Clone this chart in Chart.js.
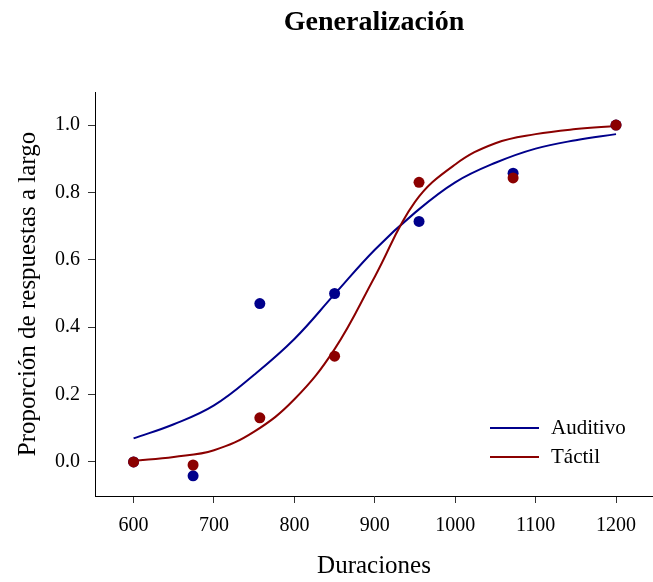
<!DOCTYPE html>
<html>
<head>
<meta charset="utf-8">
<script src="https://cdn.jsdelivr.net/npm/chart.js@4/dist/chart.umd.min.js"></script>
<style>
html,body{margin:0;padding:0;background:#fff;}
#wrap{width:653px;height:582px;position:relative;}
</style>
</head>
<body>
<div id="wrap"><canvas id="c" width="653" height="582"></canvas></div>
<script>
// ---- data ----
const durations   = [600, 674, 757, 850, 955, 1072, 1200];
const auditivoObs = [0.0, -0.041, 0.470, 0.500, 0.714, 0.857, 1.0];
const tactilObs   = [0.0, -0.009, 0.131, 0.314, 0.830, 0.843, 1.0];

const curveX      = [600, 650, 700, 750, 800, 850, 900, 950, 1000, 1050, 1100, 1150, 1200];
const auditivoFit = [0.070, 0.112, 0.168, 0.259, 0.365, 0.498, 0.630, 0.740, 0.830, 0.888, 0.930, 0.955, 0.973];
const tactilFit   = [0.003, 0.015, 0.035, 0.090, 0.186, 0.335, 0.550, 0.772, 0.883, 0.946, 0.973, 0.988, 0.997];

const xTicks = [600, 700, 800, 900, 1000, 1100, 1200];
const yTicks = [0.0, 0.2, 0.4, 0.6, 0.8, 1.0];
const legendLabels = ['Auditivo', 'Táctil'];

// ---- styling ----
const SERIF = "'Liberation Serif', 'Times New Roman', Times, serif";
const BLUE = '#00008B';
const RED  = '#8B0000';

const pts = (xs, ys) => xs.map((x, i) => ({ x: x, y: ys[i] }));

const insetLegend = {
  id: 'insetLegend',
  afterDraw(chart, args, opts) {
    const ctx = chart.ctx;
    ctx.save();
    ctx.font = opts.fontSize + 'px ' + SERIF;
    ctx.textBaseline = 'middle';
    ctx.textAlign = 'left';
    opts.labels.forEach((label, i) => {
      const ds = chart.data.datasets.find(d => d.label === label);
      const y = opts.y + i * opts.spacing;
      ctx.strokeStyle = ds.borderColor;
      ctx.lineWidth = 2;
      ctx.beginPath();
      ctx.moveTo(opts.x, y);
      ctx.lineTo(opts.x + opts.lineLen, y);
      ctx.stroke();
      ctx.fillStyle = '#000';
      ctx.fillText(label, opts.x + opts.lineLen + opts.gap, y);
    });
    ctx.restore();
  }
};

Chart.defaults.color = '#000';
Chart.defaults.font.family = SERIF;

new Chart(document.getElementById('c').getContext('2d'), {
  type: 'scatter',
  data: {
    datasets: [
      { label: 'Táctil (observado)', data: pts(durations, tactilObs),
        backgroundColor: RED, borderColor: RED, pointRadius: 5.5, pointBorderWidth: 0, showLine: false },
      { label: 'Auditivo (observado)', data: pts(durations, auditivoObs),
        backgroundColor: BLUE, borderColor: BLUE, pointRadius: 5.5, pointBorderWidth: 0, showLine: false },
      { label: 'Táctil', data: pts(curveX, tactilFit),
        borderColor: RED, backgroundColor: RED, borderWidth: 2, pointRadius: 0, showLine: true,
        tension: 0.4 },
      { label: 'Auditivo', data: pts(curveX, auditivoFit),
        borderColor: BLUE, backgroundColor: BLUE, borderWidth: 2, pointRadius: 0, showLine: true,
        tension: 0.4 }
    ]
  },
  options: {
    responsive: false,
    animation: false,
    devicePixelRatio: 1,
    layout: { padding: 0, autoPadding: false },
    plugins: {
      legend: { display: false },
      tooltip: { enabled: false },
      title: {
        display: true,
        text: 'Generalización',
        fullSize: false,
        color: '#000',
        font: { family: SERIF, size: 28, weight: 'bold', lineHeight: 1.2 },
        padding: { top: 6, bottom: 52.4 }
      },
      insetLegend: { labels: legendLabels, x: 490, y: 428, spacing: 29, lineLen: 49, gap: 12, fontSize: 21 }
    },
    scales: {
      x: {
        type: 'linear',
        min: 552, max: 1246,
        afterBuildTicks: s => { s.ticks = xTicks.map(v => ({ value: v })); },
        afterFit: s => { s.height = 86; s.paddingLeft = 0; s.paddingRight = 0; },
        grid: { drawOnChartArea: false, drawTicks: true, tickLength: 7, color: '#333', tickWidth: 1 },
        border: { display: true, color: '#000', width: 1 },
        ticks: { font: { family: SERIF, size: 20 }, color: '#000', padding: 11, maxRotation: 0, autoSkip: false,
                 callback: v => String(v) },
        title: { display: true, text: 'Duraciones', color: '#000',
                 font: { family: SERIF, size: 25, lineHeight: 1.2 }, padding: { top: 0, bottom: 1 } }
      },
      y: {
        type: 'linear',
        min: -0.101, max: 1.098,
        afterBuildTicks: s => { s.ticks = yTicks.map(v => ({ value: v })); },
        afterFit: s => { s.width = 95; s.paddingTop = 0; s.paddingBottom = 0; },
        grid: { drawOnChartArea: false, drawTicks: true, tickLength: 7, color: '#333', tickWidth: 1 },
        border: { display: true, color: '#000', width: 1 },
        ticks: { font: { family: SERIF, size: 20 }, color: '#000', padding: 8,
                 callback: v => Number(v).toFixed(1) },
        title: { display: true, text: 'Proporción de respuestas a largo', color: '#000',
                 font: { family: SERIF, size: 25, lineHeight: 1.2 }, padding: { top: 13, bottom: 0 } }
      }
    }
  },
  plugins: [insetLegend]
});
</script>
</body>
</html>
